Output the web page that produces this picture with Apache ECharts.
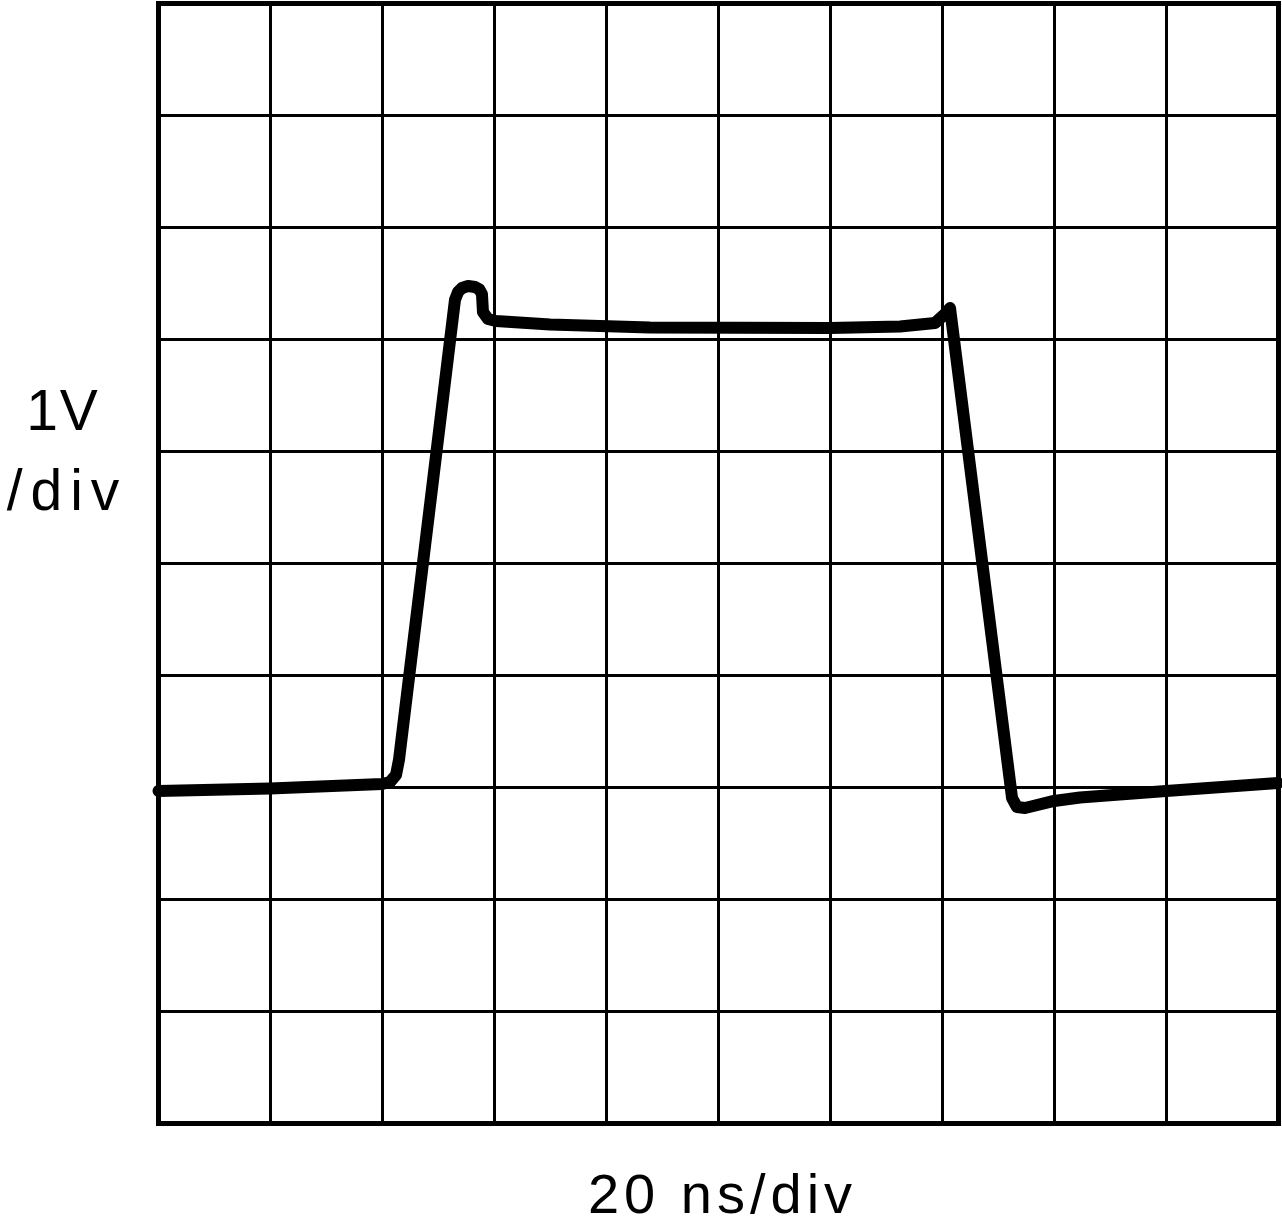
<!DOCTYPE html>
<html>
<head>
<meta charset="utf-8">
<script src="https://cdn.jsdelivr.net/npm/echarts@6/dist/echarts.min.js"></script>
<style>
html,body{margin:0;padding:0;background:#fff;}
#chart{width:1282px;height:1232px;}
</style>
</head>
<body>
<div id="chart"></div>
<script>
// time in divisions (20 ns/div), voltage in divisions (1 V/div), 0 = bottom of screen
var timeDiv = [0, 0.996, 1.996, 2.067, 2.121, 2.147, 2.647, 2.674, 2.710, 2.764, 2.826, 2.866, 2.888, 2.897, 2.942, 3.013, 3.496, 4.388, 5.996, 6.621, 6.933, 7.022, 7.067, 7.621, 7.665, 7.737, 7.996, 8.228, 8.996, 9.996];
var voltDiv = [2.969, 2.991, 3.031, 3.049, 3.112, 3.246, 7.353, 7.424, 7.460, 7.478, 7.469, 7.446, 7.406, 7.246, 7.183, 7.165, 7.134, 7.107, 7.103, 7.116, 7.147, 7.228, 7.281, 2.906, 2.826, 2.817, 2.880, 2.911, 2.969, 3.040];
var xLabel = '20 ns/div';
var yLabelTop = '1V';
var yLabelBottom = '/div';

var trace = timeDiv.map(function (t, i) { return [t, voltDiv[i]]; });

function spaced(str, key) {
  return str.split('').map(function (c) { return '{' + key + '|' + c + '}'; }).join('');
}

var chart = echarts.init(document.getElementById('chart'), null, {renderer: 'canvas'});
var font = '"Liberation Sans", Arial, sans-serif';
chart.setOption({
  animation: false,
  backgroundColor: '#ffffff',
  grid: {left: 158.5, top: 3.5, width: 1120, height: 1120, show: true, borderColor: '#000', borderWidth: 5, backgroundColor: 'transparent'},
  xAxis: {
    type: 'value', min: 0, max: 10, interval: 1,
    axisLine: {show: false}, axisTick: {show: false}, axisLabel: {show: false},
    splitLine: {show: true, lineStyle: {color: '#000', width: 3}}
  },
  yAxis: {
    type: 'value', min: 0, max: 10, interval: 1,
    axisLine: {show: false}, axisTick: {show: false}, axisLabel: {show: false},
    splitLine: {show: true, lineStyle: {color: '#000', width: 3}}
  },
  graphic: [
    {type: 'text', x: 720, y: 1198, style: {
      text: spaced(xLabel, 'a'), textAlign: 'center', textVerticalAlign: 'middle',
      rich: {a: {fontSize: 56, fontFamily: font, color: '#000', padding: [0, 2.5, 0, 2.5]}}
    }},
    {type: 'text', x: 62, y: 414, style: {
      text: spaced(yLabelTop, 'b'), textAlign: 'center', textVerticalAlign: 'middle',
      rich: {b: {fontSize: 57, fontFamily: font, color: '#000', padding: [0, 1, 0, 1]}}
    }},
    {type: 'text', x: 63, y: 494, style: {
      text: spaced(yLabelBottom, 'c'), textAlign: 'center', textVerticalAlign: 'middle',
      rich: {c: {fontSize: 57, fontFamily: font, color: '#000', padding: [0, 4, 0, 4]}}
    }}
  ],
  series: [{
    type: 'line',
    data: trace,
    showSymbol: false,
    smooth: false,
    lineStyle: {color: '#000', width: 12, join: 'round', cap: 'round'}
  }]
});
</script>
</body>
</html>
